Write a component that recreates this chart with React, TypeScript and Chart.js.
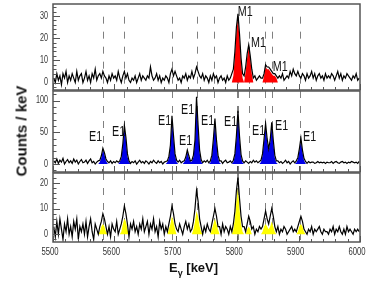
import React, { useEffect, useRef } from 'react';
import { Chart, registerables } from 'chart.js';

Chart.register(...registerables);

// ---- axis / binning ----
const E_MIN = 5500;
const E_MAX = 6000;
const BIN = 2.5; // keV per histogram bin
const xTickValues = [5500, 5600, 5700, 5800, 5900, 6000];
const p1YTicks = [0, 10, 20, 30];
const p2YTicks = [0, 50, 100];
const p3YTicks = [0, 10, 20];
const peakLines = [5581, 5616, 5694, 5734, 5763, 5799, 5802, 5820, 5846, 5856, 5903];

// ---- spectra (counts / keV per 2.5 keV bin, 5500 → 6000 keV) ----
const m1Counts = [
  2, 0, 4, 1, 3, -1, 4, 2, 5, 0, 3, 1, 4, 2, 0, 5, 1, 3, 4, 0,
  2, 5, 1, 3, 0, 4, 2, 6, 1, 3, 4, 2, 5, 3, 2, 0, 3, 1, 4, 2,
  3, 1, 5, 2, 0, 3, 5, 2, 4, 1, 0, 2, 1, 3, 0, 2, 4, 1, 3, 2,
  1, 3, 2, 7, 3, 1, 2, 4, 1, 3, 0, 2, 1, 3, 2, 0, 4, 6, 3, 5,
  3, 1, 2, 0, 3, 2, 4, 1, 3, 2, 5, 2, 4, 7, 5, 3, 2, 4, 1, 3,
  2, 0, 3, 1, 4, 2, 3, 0, 2, 3, 1, 2, 0, 3, 1, 2, 4, 6, 14, 25,
  31, 22, 11, 4, 3, 7, 13, 17, 12, 6, 2, 3, 1, 2, 3, 2, 2, 4, 8, 7,
  7, 6, 5, 4, 4, 3, 2, 3, 2, 4, 1, 2, 3, 2, 5, 3, 6, 4, 3, 5,
  3, 2, 4, 3, 1, 4, 2, 3, 5, 2, 4, 1, 3, 4, 2, 3, 1, 4, 2, 3,
  2, 4, 3, 1, 3, 5, 2, 4, 1, 3, 2, 4, 3, 2, 1, 3, 2, 4, 1, 2,
];

const e1Counts = [
  5, 2, 8, 1, 6, 3, 9, 0, 4, 7, 2, 5, 1, 8, 3, 6, 0, 4, 7, 2,
  3, 6, 1, 5, 8, 2, 4, 0, 3, 5, 6, 13, 25, 18, 8, 4, 2, 5, 1, 4,
  2, 5, 3, 5, 12, 32, 61, 42, 16, 5, 1, 4, 2, 5, 0, 3, 6, 2, 4, 1,
  5, 3, 0, 4, 2, 6, 3, 1, 5, 2, 4, 0, 3, 4, 5, 12, 30, 76, 45, 16,
  6, 3, 6, 2, 4, 5, 11, 22, 13, 5, 6, 14, 38, 106, 62, 22, 7, 2, 5, 3,
  6, 2, 5, 14, 40, 72, 38, 14, 5, 5, 1, 4, 6, 2, 3, 5, 2, 6, 16, 45,
  84, 44, 15, 5, 2, 5, 3, 1, 4, 2, 6, 3, 5, 2, 4, 6, 16, 40, 64, 40,
  24, 38, 66, 38, 14, 5, 5, 2, 4, 1, 3, 6, 2, 4, 0, 3, 5, 2, 5, 10,
  24, 41, 22, 9, 4, 1, 4, 2, 3, 3, 1, 2, 4, 2, 3, 2, 3, 1, 3, 2,
  2, 4, 1, 3, 4, 2, 1, 3, 4, 2, 3, 1, 3, 2, 4, 3, 2, 3, 1, 4,
];

const e1bCounts = [
  3, -1, 5, 0, 6, 2, -2, 4, 1, 6, 0, 3, -1, 5, 2, 6, -2, 3, 1, 4,
  0, 5, -1, 3, 6, 1, -2, 4, 2, 0, 3, 5, 8, 6, 3, 0, 3, -1, 4, 2,
  1, 5, 0, 2, 4, 7, 11, 8, 4, -1, 4, 2, 5, 1, 3, 0, 4, 2, 6, 1,
  3, 5, 0, 4, 2, 6, 1, 3, -1, 5, 2, 4, 0, 3, 1, 4, 7, 11, 8, 4,
  2, 1, 4, 2, 0, 3, 5, 2, 4, 1, 2, 5, 10, 17, 13, 6, 3, 0, 3, 1,
  4, 2, 1, 4, 7, 10, 7, 3, 3, 0, 4, 1, 3, 2, 0, 3, 1, 4, 9, 17,
  22, 14, 7, 3, 3, 1, 4, 7, 5, 2, 3, 0, 2, 1, 3, 2, 3, 6, 9, 6,
  4, 7, 10, 7, 3, 1, 3, 0, 2, 1, 3, 2, 0, 1, 2, 3, 1, 2, 1, 3,
  5, 7, 5, 2, 1, 0, 2, 1, 3, 0, 2, 1, 2, 3, 1, 0, 2, 1, 1, 0,
  2, 1, 3, 0, 2, 1, 3, 1, 0, 2, 0, 3, 1, 2, 1, 0, 2, 1, 2, 1,
];

// ---- fitted peak components: [lower edge of first bin (keV), counts per bin] ----
const m1Peaks: [number, number[]][] = [
  [5790, [0, 3, 12, 23, 29, 20, 9, 2, 0]],
  [5810, [0, 5, 11, 16, 11, 4, 0]],
  [5840, [0, 3, 7, 6, 6, 5, 4, 3, 3, 2, 0]],
];
const e1Peaks: [number, number[]][] = [
  [5572.5, [0, 3, 10, 22, 15, 5, 1, 0]],
  [5605, [0, 3, 9, 29, 57, 38, 12, 3, 0]],
  [5682.5, [0, 3, 9, 27, 72, 41, 13, 3, 0]],
  [5710, [0, 3, 8, 19, 10, 4, 4, 11, 34, 102, 57, 18, 4, 0]],
  [5752.5, [0, 2, 11, 36, 68, 34, 10, 2, 0]],
  [5790, [0, 3, 13, 41, 80, 40, 11, 2, 0]],
  [5835, [0, 3, 13, 36, 60, 36, 21, 34, 62, 34, 10, 2, 0]],
  [5892.5, [0, 2, 7, 21, 38, 19, 6, 1, 0]],
];
const e1bPeaks: [number, number[]][] = [
  [5572.5, [0, 1, 3, 4, 3, 1, 0]],
  [5607.5, [0, 1, 4, 6, 5, 2, 0]],
  [5685, [0, 2, 4, 7, 5, 2, 0]],
  [5725, [0, 2, 5, 9, 7, 3, 1, 0]],
  [5755, [0, 2, 4, 6, 4, 2, 0]],
  [5790, [0, 2, 6, 13, 18, 10, 4, 1, 0]],
  [5812.5, [0, 2, 3, 2, 0]],
  [5837.5, [0, 1, 3, 4, 3, 2, 3, 5, 3, 1, 0]],
  [5895, [0, 1, 3, 4, 3, 1, 0]],
];

// ---- peak labels (energy of text start, counts at text middle) ----
const m1Labels = [
  { text: 'M1', e: 5801, y: 31.8 },
  { text: 'M1', e: 5822.5, y: 17.8 },
  { text: 'M1', e: 5858, y: 7.0 },
];
const e1Labels = [
  { text: 'E1', e: 5558.6, y: 41.9 },
  { text: 'E1', e: 5596.1, y: 51.3 },
  { text: 'E1', e: 5671, y: 67.9 },
  { text: 'E1', e: 5705.2, y: 36.3 },
  { text: 'E1', e: 5708.5, y: 85.3 },
  { text: 'E1', e: 5741, y: 67.9 },
  { text: 'E1', e: 5778.5, y: 67.1 },
  { text: 'E1', e: 5824.1, y: 52.1 },
  { text: 'E1', e: 5861.6, y: 60.8 },
  { text: 'E1', e: 5907.2, y: 43.4 },
];

const FONT = '"Liberation Sans", Arial, sans-serif';

function histPoints(counts: number[]) {
  return counts.map((c, i) => ({ x: E_MIN + BIN * (i + 0.5), y: c }));
}
function peakPoints(peaks: [number, number[]][]) {
  const pts: { x: number; y: number }[] = [{ x: E_MIN, y: 0 }];
  for (const [start, vals] of peaks) {
    vals.forEach((v, k) => pts.push({ x: start + BIN * (k + 0.5), y: v }));
  }
  pts.push({ x: E_MAX, y: 0 });
  return pts;
}

function drawText(ctx: CanvasRenderingContext2D, t: string, x: number, y: number, align: CanvasTextAlign, sx: number) {
  ctx.save();
  ctx.translate(x, y);
  ctx.scale(sx, 1);
  ctx.textAlign = align;
  ctx.fillText(t, 0, 0);
  ctx.restore();
}

type PanelProps = {
  top: number;
  height: number;
  padBottom: number;
  counts: number[];
  peaks: [number, number[]][];
  color: string;
  yMin: number;
  yMax: number;
  yTicks: number[];
  yMinor: number;
  labels: { text: string; e: number; y: number }[];
  dashFrom?: number;
  showX?: boolean;
};

function Panel(p: PanelProps) {
  const ref = useRef<HTMLCanvasElement>(null);
  useEffect(() => {
    const canvas = ref.current!;
    const deco = {
      id: 'deco',
      beforeDatasetsDraw(chart: any) {
        const { ctx, chartArea: a, scales } = chart;
        const xs = scales.x;
        const ys = scales.y;
        ctx.save();
        ctx.strokeStyle = '#808080';
        ctx.lineWidth = 1;
        ctx.setLineDash([7, 8]);
        const y0 = p.dashFrom != null ? ys.getPixelForValue(p.dashFrom) : a.top;
        for (const e of peakLines) {
          const x = Math.round(xs.getPixelForValue(e)) + 0.5;
          ctx.beginPath();
          ctx.moveTo(x, y0);
          ctx.lineTo(x, a.bottom);
          ctx.stroke();
        }
        ctx.restore();
      },
      afterDatasetsDraw(chart: any) {
        const { ctx, chartArea: a, scales } = chart;
        const xs = scales.x;
        const ys = scales.y;
        ctx.save();
        ctx.strokeStyle = '#555';
        ctx.lineWidth = 1;
        ctx.beginPath();
        for (let e = E_MIN; e <= E_MAX; e += 20) {
          const x = Math.round(xs.getPixelForValue(e)) + 0.5;
          const len = e % 100 === 0 ? 6 : 3;
          ctx.moveTo(x, a.bottom);
          ctx.lineTo(x, a.bottom - len);
        }
        for (let v = Math.ceil(p.yMin / p.yMinor) * p.yMinor; v <= p.yMax; v += p.yMinor) {
          const y = Math.round(ys.getPixelForValue(v)) + 0.5;
          const len = p.yTicks.includes(v) ? 7 : 3.5;
          ctx.moveTo(a.left, y);
          ctx.lineTo(a.left + len, y);
        }
        ctx.stroke();
        ctx.lineWidth = 1.5;
        ctx.strokeStyle = '#555';
        ctx.strokeRect(a.left, a.top, a.right - a.left, a.bottom - a.top);

        ctx.fillStyle = '#333';
        ctx.font = `10px ${FONT}`;
        ctx.textBaseline = 'middle';
        for (const v of p.yTicks) drawText(ctx, String(v), a.left - 5, ys.getPixelForValue(v), 'right', 0.72);
        if (p.showX) {
          ctx.font = `11px ${FONT}`;
          ctx.textBaseline = 'alphabetic';
          for (const e of xTickValues) drawText(ctx, String(e), xs.getPixelForValue(e) - 3, a.bottom + 13, 'center', 0.7);
        }
        ctx.fillStyle = '#111';
        ctx.font = `14.5px ${FONT}`;
        ctx.textBaseline = 'middle';
        for (const l of p.labels) drawText(ctx, l.text, xs.getPixelForValue(l.e), ys.getPixelForValue(l.y), 'left', 0.74);
        ctx.restore();
      },
    };
    const chart = new Chart(canvas, {
      type: 'line',
      data: {
        datasets: [
          {
            data: histPoints(p.counts),
            borderColor: '#000',
            borderWidth: 1.2,
            tension: 0,
            pointRadius: 0,
            fill: false,
            order: 0,
          },
          {
            data: peakPoints(p.peaks),
            borderWidth: 0,
            borderColor: 'rgba(0,0,0,0)',
            backgroundColor: p.color,
            tension: 0,
            pointRadius: 0,
            fill: 'origin',
            order: 1,
          },
        ],
      },
      options: {
        animation: false,
        responsive: false,
        events: [],
        layout: { padding: { top: 1, bottom: p.padBottom, left: 0, right: 14 } },
        plugins: { legend: { display: false }, tooltip: { enabled: false } },
        scales: {
          x: { type: 'linear', min: E_MIN, max: E_MAX, display: false },
          y: {
            type: 'linear',
            min: p.yMin,
            max: p.yMax,
            grid: { display: false },
            border: { display: false },
            ticks: { display: false },
            afterFit: (s: any) => {
              s.width = 53;
            },
          },
        },
      } as any,
      plugins: [deco],
    });
    return () => chart.destroy();
  }, []);
  return (
    <canvas
      ref={ref}
      width={374}
      height={p.height}
      style={{ position: 'absolute', left: 0, top: p.top, display: 'block' }}
    />
  );
}

export default function App() {
  return (
    <div style={{ position: 'absolute', left: 0, top: 0, width: 374, height: 286, background: '#fff', overflow: 'hidden' }}>
      <Panel top={3} height={88} padBottom={1} counts={m1Counts} peaks={m1Peaks} color="#ff0000"
        yMin={-3.38} yMax={35.41} yTicks={p1YTicks} yMinor={2} labels={m1Labels} dashFrom={29.7} />
      <Panel top={90} height={83} padBottom={1} counts={e1Counts} peaks={e1Peaks} color="#0000e8"
        yMin={-12.6} yMax={115.3} yTicks={p2YTicks} yMinor={10} labels={e1Labels} />
      <Panel top={172} height={90} padBottom={20} counts={e1bCounts} peaks={e1bPeaks} color="#ffff00"
        yMin={-3.0} yMax={23.8} yTicks={p3YTicks} yMinor={2} labels={[]} showX />
      <div style={{ position: 'absolute', left: 21, top: 131, transform: 'translate(-50%,-50%) rotate(-90deg)',
        font: `bold 15px ${FONT}`, whiteSpace: 'nowrap', color: '#111' }}>Counts / keV</div>
      <div style={{ position: 'absolute', left: 169, top: 260, font: `bold 13px ${FONT}`, whiteSpace: 'nowrap', color: '#111' }}>
        E<sub style={{ fontSize: 9 }}>γ</sub> [keV]
      </div>
    </div>
  );
}
